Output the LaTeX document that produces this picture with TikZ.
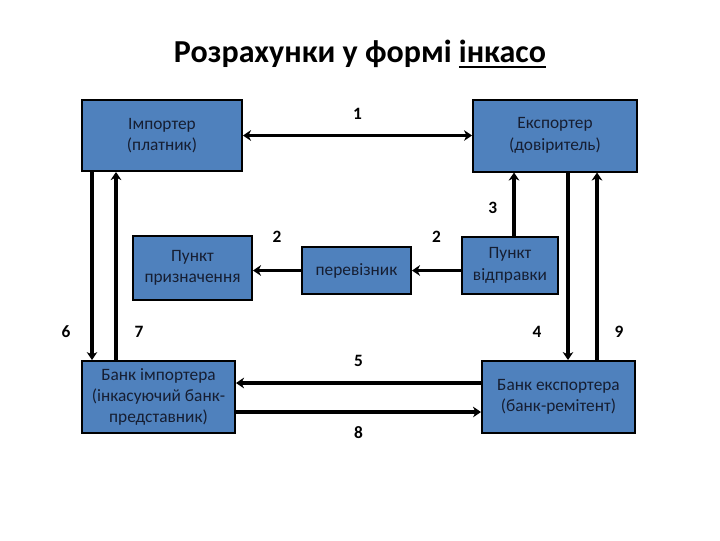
\documentclass[tikz,border=0pt]{standalone}
\usepackage{fontspec}
\setmainfont{Carlito}
\newcommand{\tul}[1]{\leavevmode\setbox0\hbox{#1}\rlap{\rule[-3.8pt]{\wd0}{1.5pt}}\box0}
\usetikzlibrary{positioning,calc,arrows.meta}
\definecolor{boxblue}{RGB}{79,129,189}
\definecolor{boxtext}{RGB}{22,30,50}

\begin{document}
\begin{tikzpicture}[x=0.75pt,y=-0.75pt,
    box/.style={draw=black, fill=boxblue, line width=1.5pt, text=boxtext,
        align=center, inner sep=2pt, font=\fontsize{13}{16}\selectfont},
    num/.style={font=\fontsize{13}{15}\selectfont\bfseries},
    link/.style={line width=2.5pt, -{Stealth[length=6pt,width=8pt]}}]

\useasboundingbox (0,0) rectangle (720,540);

\node[font=\fontsize{24}{28}\selectfont\bfseries] (title) at (360,54)
    {Розрахунки у формі \tul{інкасо}};

\node[box,
    minimum width=120pt,
    minimum height=53.25pt
] (imp) at (162,135.5) {Імпортер\\(платник)};

\node[box,
    minimum width=123pt,
    minimum height=54pt
] (exp) at (555,135.5) {Експортер\\(довіритель)};

\node[box,
    minimum width=89.25pt,
    minimum height=48pt
] (dest) at (192.5,268) {Пункт\\призначення};

\node[box,
    minimum width=81.75pt,
    minimum height=35.25pt
] (car) at (356.5,270.5) {перевізник};

\node[box,
    minimum width=72pt,
    minimum height=42.75pt
] (send) at (510,265.5) {Пункт\\відправки};

\node[box,
    minimum width=114.75pt,
    minimum height=54pt
] (bimp) at (158.5,397) {Банк імпортера\\(інкасуючий банк-\\представник)};

\node[box,
    minimum width=114.75pt,
    minimum height=54pt
] (bexp) at (558.5,397) {Банк експортера\\(банк-ремітент)};

\draw[link, {Stealth[length=6pt,width=8pt]}-{Stealth[length=6pt,width=8pt]}] (imp) -- (exp)
    node[num, pos=0.5, yshift=16.5pt] (l1) {1};

\draw[link] (car.west) -- (car.west -| dest.east)
    node[num, pos=0.5, yshift=25.5pt] (l2a) {2};
\draw[link] (car.east -| send.west) -- (car.east)
    node[num, pos=0.5, yshift=25.5pt] (l2b) {2};

\draw[link] ($(send.north)+(4,0)$) -- ($(send.north |- exp.south)+(4,0)$)
    node[num, pos=0.45, xshift=-16pt] (l3) {3};

\draw[link] ($(exp.south west)+(96,0)$) -- ($(bexp.north west)+(87,0)$)
    node[num, pos=0.85, xshift=-23.25pt] (l4) {4};
\draw[link] ($(bexp.north west)+(116,0)$) -- ($(exp.south west)+(125,0)$)
    node[num, pos=0.15, xshift=16.5pt] (l9) {9};

\draw[link] ($(imp.south west)+(11,0)$) -- ($(bimp.north west)+(11,0)$)
    node[num, pos=0.85, xshift=-19.5pt] (l6) {6};
\draw[link] ($(bimp.north west)+(35,0)$) -- ($(imp.south west)+(35,0)$)
    node[num, pos=0.15, xshift=17.25pt] (l7) {7};

\draw[link] ($(bexp.west)+(0,-14)$) -- ($(bimp.east)+(0,-14)$)
    node[num, pos=0.5, yshift=16.5pt] (l5) {5};
\draw[link] ($(bimp.east)+(0,15)$) -- ($(bexp.west)+(0,15)$)
    node[num, pos=0.5, yshift=-15.75pt] (l8) {8};

\end{tikzpicture}
\end{document}
